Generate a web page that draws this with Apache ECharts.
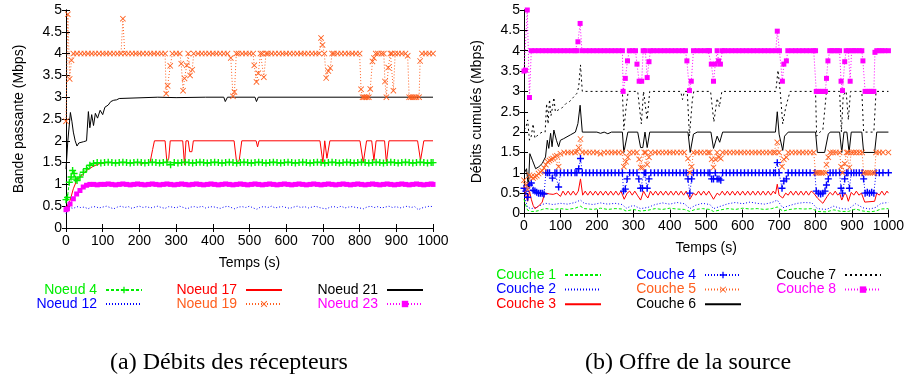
<!DOCTYPE html>
<html>
<head>
<meta charset="utf-8">
<script src="https://cdn.jsdelivr.net/npm/echarts@6/dist/echarts.min.js"></script>
<style>
  html, body { margin: 0; padding: 0; background: #fff; }
  #chart { width: 907px; height: 378px; }
</style>
</head>
<body>
<div id="chart"></div>
<script>
// ---- data: left panel (receivers), [time s, Mbps]
const noeud4 = [[0,0.65],[4,0.7],[9,1.05],[14,1.17],[18,1.32],[22,1.25],[26,1.12],[30,1.09],[38,1.17],[47,1.28],[56,1.36],[65,1.44],[75,1.48],[85,1.5],[95,1.49],[105,1.5],[115,1.51],[125,1.5],[135,1.49],[145,1.5],[155,1.51],[165,1.5],[175,1.49],[185,1.5],[195,1.51],[205,1.5],[215,1.49],[225,1.5],[235,1.51],[245,1.5],[255,1.49],[265,1.5],[275,1.51],[285,1.45],[295,1.5],[305,1.49],[315,1.5],[325,1.51],[335,1.5],[345,1.49],[355,1.5],[365,1.51],[375,1.5],[385,1.49],[395,1.5],[405,1.51],[415,1.5],[425,1.49],[435,1.5],[445,1.51],[455,1.5],[465,1.49],[475,1.5],[485,1.51],[495,1.5],[505,1.49],[515,1.5],[525,1.51],[535,1.5],[545,1.49],[555,1.5],[565,1.51],[575,1.5],[585,1.49],[595,1.5],[605,1.51],[615,1.5],[625,1.49],[635,1.5],[645,1.51],[655,1.5],[665,1.49],[675,1.5],[685,1.51],[695,1.5],[705,1.49],[715,1.5],[725,1.51],[735,1.5],[745,1.49],[755,1.5],[765,1.51],[775,1.5],[785,1.49],[795,1.5],[805,1.51],[815,1.5],[825,1.49],[835,1.5],[845,1.51],[855,1.5],[865,1.49],[875,1.5],[885,1.51],[895,1.5],[905,1.49],[915,1.5],[925,1.51],[935,1.5],[945,1.49],[955,1.5],[965,1.51],[975,1.5],[985,1.49],[995,1.5],[1000,1.5]];
const noeud12 = [[0,0.33],[5,0.42],[10,0.47],[20,0.45],[30,0.49],[40,0.47],[50,0.48],[60,0.44],[70,0.48],[80,0.49],[90,0.46],[100,0.48],[110,0.5],[120,0.47],[130,0.44],[140,0.48],[150,0.5],[160,0.47],[170,0.49],[180,0.45],[190,0.48],[200,0.5],[210,0.47],[220,0.49],[230,0.46],[240,0.48],[250,0.5],[260,0.47],[270,0.45],[280,0.49],[290,0.48],[300,0.46],[310,0.5],[320,0.47],[330,0.44],[340,0.48],[350,0.49],[360,0.47],[370,0.5],[380,0.46],[390,0.48],[400,0.49],[410,0.47],[420,0.45],[430,0.48],[440,0.5],[450,0.47],[460,0.44],[470,0.48],[480,0.49],[490,0.47],[500,0.5],[510,0.46],[520,0.43],[530,0.48],[540,0.49],[550,0.47],[560,0.5],[570,0.46],[580,0.48],[590,0.49],[600,0.47],[610,0.45],[620,0.48],[630,0.5],[640,0.47],[650,0.49],[660,0.46],[670,0.48],[680,0.5],[690,0.47],[700,0.45],[710,0.44],[720,0.48],[730,0.49],[740,0.47],[750,0.5],[760,0.46],[770,0.48],[780,0.49],[790,0.47],[800,0.46],[810,0.44],[820,0.48],[830,0.5],[840,0.47],[850,0.49],[860,0.46],[870,0.48],[880,0.5],[890,0.47],[900,0.49],[910,0.46],[920,0.48],[930,0.5],[940,0.47],[950,0.49],[960,0.42],[970,0.46],[980,0.48],[990,0.5],[1000,0.49]];
const noeud17 = [[0,0.45],[11,0.63],[20,0.9],[29,1.09],[43,1.2],[56,1.32],[75,1.42],[93,1.48],[111,1.5],[200,1.5],[205,1.45],[212,1.5],[229,1.5],[236,1.8],[241,2],[270,2],[275,1.5],[280,1.6],[284,2],[318,2],[323,1.45],[327,2],[333,2],[337,1.75],[343,1.75],[347,2],[458,2],[465,1.5],[472,1.55],[479,2],[518,2],[522,1.86],[526,2],[692,2],[700,1.5],[705,2],[711,1.6],[719,2],[801,2],[810,1.5],[819,2],[833,2],[839,1.55],[845,2],[868,2],[873,1.5],[880,2],[958,2],[966,1.55],[975,2],[1000,2]];
const noeud19 = [[0,2.45],[5,4.9],[10,3.42],[15,3.85],[20,4],[30,4],[40,4],[50,4],[60,4],[70,4],[80,4],[90,4],[100,4],[110,4],[120,4],[130,4],[140,4],[150,4],[155,4.8],[160,4],[170,4],[180,4],[190,4],[200,4],[210,4],[220,4],[230,4],[240,4],[250,4],[260,4],[270,4],[273,3.08],[277,3.26],[284,3.72],[290,4],[300,4],[310,4],[314,3.77],[319,3.15],[323,3.43],[329,3.73],[333,4],[338,3.5],[344,3.63],[348,4],[360,4],[370,4],[380,4],[390,4],[400,4],[410,4],[420,4],[430,4],[440,4],[449,3.9],[455,3.02],[459,3.12],[464,4],[470,4],[480,4],[490,4],[500,4],[510,4],[513,3.73],[519,3.35],[524,3.55],[530,4],[535,4],[539,3.46],[545,4],[550,4],[560,4],[570,4],[580,4],[590,4],[600,4],[610,4],[620,4],[630,4],[640,4],[650,4],[660,4],[670,4],[680,4],[690,4],[695,4.36],[699,4.2],[704,4],[709,3.44],[715,3.6],[720,3.67],[725,4],[730,4],[740,4],[750,4],[760,4],[770,4],[780,4],[790,4],[800,4],[804,3.18],[808,3],[812,3],[816,3],[820,3],[825,3],[829,3.19],[835,3.82],[839,3.9],[844,4],[850,4],[860,4],[866,4],[869,3.36],[873,3],[878,3.68],[884,4],[888,4],[892,3.15],[897,4],[905,4],[915,4],[925,4],[931,3.95],[935,3],[940,3],[945,3],[950,3],[955,3],[962,3],[965,3.83],[970,4],[980,4],[990,4],[1000,4]];
const noeud21 = [[0,1.35],[5,2.0],[12,2.65],[16,2.45],[20,2.2],[25,2.0],[30,1.88],[35,1.95],[40,1.92],[48,1.98],[56,2.0],[61,2.67],[65,2.3],[70,2.6],[75,2.35],[80,2.63],[86,2.52],[93,2.7],[100,2.6],[106,2.77],[115,2.82],[122,2.9],[130,2.93],[138,2.94],[145,2.97],[150,3.0],[250,3.0],[300,2.99],[380,3.0],[430,3.0],[434,2.9],[440,3.0],[515,3.0],[519,2.9],[524,3.0],[1000,3.0]];
const noeud23 = [[0,0.42],[4,0.44],[11,0.55],[20,0.67],[29,0.78],[38,0.86],[47,0.94],[56,0.98],[65,1],[75,1],[85,0.99],[95,1],[105,1],[115,1.01],[125,1],[135,0.99],[145,1],[155,1.01],[165,1],[175,0.99],[185,1],[195,1.01],[205,1],[215,0.99],[225,1],[235,1.01],[245,1],[255,0.99],[265,1],[275,1.01],[285,1],[295,0.99],[305,1],[315,1.01],[325,1],[335,0.99],[345,1],[355,1.01],[365,1],[375,0.99],[385,1],[395,1.01],[405,1],[415,0.99],[425,1],[435,1.01],[445,1],[455,0.99],[465,1],[475,1.01],[485,1],[495,0.99],[505,1],[515,1.01],[525,1],[535,0.99],[545,1],[555,1.01],[565,1],[575,0.99],[585,1],[595,1.01],[605,1],[615,0.99],[625,1],[635,1.01],[645,1],[655,0.99],[665,1],[675,1.01],[685,1],[695,0.99],[705,1],[715,1.01],[725,1],[735,0.99],[745,1],[755,1.01],[765,1],[775,0.99],[785,1],[795,1.01],[805,1],[815,0.99],[825,1],[835,1.01],[845,1],[855,0.99],[865,1],[875,1.01],[885,1],[895,0.99],[905,1],[915,1.01],[925,1],[935,0.99],[945,1],[955,1.01],[965,1],[975,0.99],[985,1],[995,1.01],[1000,1]];

// ---- data: right panel (source layers), [time s, Mbps]
const couche1 = [[0,0.35],[5,0.2],[10,0.08],[20,0.05],[30,0.05],[40,0.07],[50,0.1],[60,0.12],[80,0.1],[100,0.12],[120,0.1],[140,0.13],[155,0.18],[165,0.12],[190,0.1],[210,0.13],[230,0.1],[250,0.12],[270,0.11],[280,0.06],[300,0.1],[320,0.06],[340,0.08],[360,0.12],[380,0.1],[400,0.13],[420,0.11],[440,0.1],[455,0.05],[470,0.1],[490,0.12],[510,0.1],[520,0.05],[540,0.09],[560,0.12],[580,0.1],[600,0.13],[620,0.11],[640,0.12],[660,0.1],[680,0.12],[695,0.16],[710,0.06],[730,0.1],[750,0.12],[770,0.11],[790,0.12],[805,0.05],[830,0.04],[850,0.09],[870,0.05],[890,0.05],[910,0.11],[930,0.06],[950,0.04],[965,0.06],[980,0.11],[1000,0.12]];
const couche2 = [[0,0.55],[5,0.3],[10,0.15],[20,0.12],[30,0.14],[40,0.18],[50,0.22],[60,0.25],[80,0.22],[100,0.25],[120,0.23],[140,0.27],[155,0.33],[165,0.25],[190,0.22],[210,0.26],[230,0.23],[250,0.25],[270,0.22],[280,0.13],[300,0.2],[320,0.12],[340,0.15],[360,0.22],[380,0.26],[400,0.23],[420,0.27],[440,0.24],[455,0.12],[470,0.2],[490,0.25],[510,0.22],[520,0.12],[540,0.18],[560,0.24],[580,0.27],[600,0.24],[620,0.28],[640,0.25],[660,0.23],[680,0.27],[695,0.33],[710,0.14],[730,0.2],[750,0.25],[770,0.27],[790,0.26],[805,0.12],[830,0.1],[850,0.18],[870,0.12],[890,0.11],[910,0.24],[930,0.14],[950,0.11],[965,0.15],[980,0.25],[1000,0.27]];
const couche3 = [[0,0.62],[5,0.45],[10,0.3],[15,0.55],[20,0.35],[25,0.2],[30,0.12],[40,0.18],[50,0.28],[55,0.45],[60,0.5],[70,0.48],[80,0.47],[90,0.5],[100,0.42],[107,0.55],[114,0.45],[121,0.55],[128,0.45],[135,0.55],[142,0.45],[149,0.55],[155,0.85],[161,0.45],[168,0.55],[175,0.45],[182,0.55],[189,0.45],[196,0.55],[203,0.45],[210,0.55],[217,0.45],[224,0.55],[231,0.45],[238,0.55],[245,0.45],[252,0.55],[259,0.45],[266,0.55],[275,0.35],[283,0.5],[290,0.55],[297,0.45],[304,0.55],[311,0.45],[320,0.33],[328,0.55],[334,0.45],[340,0.38],[347,0.55],[354,0.45],[361,0.55],[368,0.45],[375,0.55],[382,0.45],[389,0.55],[396,0.45],[403,0.55],[410,0.45],[417,0.55],[424,0.45],[431,0.55],[438,0.45],[445,0.55],[455,0.35],[465,0.5],[472,0.45],[479,0.55],[486,0.45],[493,0.55],[500,0.45],[507,0.55],[520,0.35],[530,0.5],[537,0.45],[544,0.55],[551,0.45],[558,0.55],[565,0.45],[572,0.55],[579,0.45],[586,0.55],[593,0.45],[600,0.55],[607,0.45],[614,0.55],[621,0.45],[628,0.55],[635,0.45],[642,0.55],[649,0.45],[656,0.55],[663,0.45],[670,0.55],[677,0.45],[684,0.55],[690,0.48],[695,0.72],[700,0.45],[710,0.38],[718,0.5],[725,0.45],[732,0.55],[739,0.45],[746,0.55],[753,0.45],[760,0.55],[767,0.45],[774,0.55],[781,0.45],[788,0.55],[795,0.5],[805,0.38],[820,0.25],[832,0.42],[840,0.52],[847,0.45],[854,0.55],[861,0.45],[866,0.5],[872,0.33],[880,0.5],[885,0.45],[890,0.3],[898,0.52],[905,0.45],[912,0.55],[919,0.45],[926,0.5],[935,0.28],[962,0.3],[968,0.5],[975,0.45],[982,0.55],[989,0.45],[996,0.55],[1000,0.5]];
const couche4 = [[0,0.62],[5,0.55],[10,0.4],[15,0.7],[20,0.75],[25,0.57],[30,0.55],[35,0.52],[40,0.5],[45,0.5],[50,0.5],[55,0.48],[60,1],[65,1],[70,1],[78,0.87],[85,1],[90,1],[95,0.65],[100,1],[110,1],[120,1],[130,1],[140,1],[145,1],[150,1.1],[155,1.35],[160,1],[170,1],[180,1],[190,1],[200,1],[210,1],[220,1],[230,1],[240,1],[250,1],[260,1],[270,1],[273,0.55],[278,0.6],[283,0.85],[290,1],[300,1],[310,1],[315,0.85],[320,0.62],[325,0.62],[330,1],[334,1],[338,0.62],[343,0.85],[348,1],[358,1],[368,1],[378,1],[388,1],[398,1],[408,1],[418,1],[428,1],[438,1],[445,1],[450,0.85],[455,0.5],[460,0.85],[465,1],[475,1],[485,1],[495,1],[505,1],[510,1],[515,0.85],[520,0.85],[525,1],[530,0.85],[535,0.85],[540,0.82],[545,1],[555,1],[565,1],[575,1],[585,1],[595,1],[605,1],[615,1],[625,1],[635,1],[645,1],[655,1],[665,1],[675,1],[685,1],[690,1],[695,1.25],[700,1],[708,0.62],[713,0.8],[720,0.85],[725,1],[735,1],[745,1],[755,1],[765,1],[775,1],[785,1],[798,1],[802,0.55],[808,0.5],[814,0.48],[820,0.5],[826,0.55],[830,0.7],[835,0.85],[840,1],[848,1],[856,1],[866,1],[870,0.62],[874,0.5],[880,0.85],[885,1],[889,1],[893,0.62],[898,1],[905,1],[912,1],[920,1],[928,1],[932,0.85],[936,0.5],[942,0.52],[948,0.5],[954,0.52],[960,0.5],[966,1],[975,1],[985,1],[1000,1]];
const couche5 = [[0,0.82],[5,0.7],[10,0.59],[15,0.94],[20,0.9],[25,0.87],[30,0.9],[35,0.93],[40,0.98],[45,1.02],[50,1.05],[55,1.12],[60,1.2],[65,1.27],[70,1.3],[75,1.33],[80,1.35],[85,1.4],[90,1.42],[95,1.15],[100,1.47],[110,1.5],[120,1.5],[130,1.5],[140,1.5],[146,1.52],[150,1.62],[155,1.83],[160,1.5],[170,1.5],[180,1.5],[190,1.5],[200,1.5],[210,1.47],[220,1.5],[230,1.5],[240,1.5],[250,1.5],[260,1.5],[270,1.5],[274,1.15],[280,1.27],[285,1.38],[290,1.5],[300,1.5],[310,1.5],[316,1.33],[320,1.13],[325,1.13],[330,1.5],[334,1.5],[338,1.2],[343,1.38],[348,1.5],[360,1.5],[370,1.5],[380,1.5],[390,1.5],[400,1.5],[410,1.5],[420,1.5],[430,1.5],[440,1.5],[450,1.35],[455,1.0],[460,1.15],[465,1.5],[475,1.5],[485,1.5],[495,1.5],[505,1.5],[510,1.5],[515,1.33],[520,1.13],[525,1.33],[530,1.5],[535,1.38],[540,1.35],[545,1.5],[555,1.5],[565,1.5],[575,1.5],[585,1.5],[595,1.5],[605,1.5],[615,1.5],[625,1.5],[635,1.5],[645,1.5],[655,1.5],[665,1.5],[675,1.5],[685,1.5],[690,1.5],[695,1.75],[700,1.5],[708,1.15],[713,1.33],[720,1.38],[725,1.5],[735,1.5],[745,1.5],[755,1.5],[765,1.5],[775,1.5],[785,1.5],[795,1.5],[800,1],[805,1],[810,1],[815,1],[820,1],[828,1],[830,1.2],[835,1.38],[840,1.5],[848,1.5],[856,1.5],[866,1.5],[870,1.15],[874,1],[880,1.22],[885,1.5],[889,1.5],[893,1.13],[898,1.5],[905,1.5],[912,1.5],[920,1.5],[928,1.5],[932,1],[938,1],[944,1],[950,1],[956,1],[962,1],[966,1.5],[975,1.5],[985,1.5],[1000,1.5]];
const couche6 = [[0,0.98],[7,1.1],[12,0.65],[16,1.47],[23,1.31],[32,1.1],[41,1.15],[50,1.23],[59,1.39],[64,1.8],[68,1.6],[73,1.97],[77,1.64],[82,2.05],[89,1.8],[95,1.64],[100,1.8],[109,1.84],[127,1.93],[141,2.0],[148,2.21],[154,2.66],[160,2.0],[200,2.0],[210,1.97],[220,2.0],[230,1.96],[240,2.0],[270,2.0],[274,1.5],[285,2.0],[312,2.0],[320,1.62],[326,1.62],[332,2.0],[335,2.0],[338,1.62],[345,2.0],[450,2.0],[456,1.5],[465,1.95],[475,2.0],[513,2.0],[520,1.6],[530,1.9],[537,1.75],[545,2.0],[690,2.0],[695,2.5],[700,1.95],[710,1.55],[715,1.9],[725,2.0],[800,2.0],[805,1.5],[825,1.5],[835,1.95],[840,2.0],[866,2.0],[872,1.5],[878,2.0],[886,2.0],[892,1.5],[898,2.0],[927,2.0],[932,1.5],[962,1.5],[968,2.0],[1000,2.0]];
const couche7 = [[0,2.05],[5,2.1],[10,2.3],[15,1.8],[20,1.9],[25,2.2],[30,1.85],[40,1.95],[50,2.0],[58,2.0],[62,2.7],[66,2.2],[70,2.8],[74,2.4],[78,2.6],[82,2.85],[86,2.5],[95,2.55],[105,2.6],[115,2.7],[125,2.75],[135,2.85],[145,2.95],[150,3.1],[155,3.65],[160,3.0],[270,3.0],[274,2.05],[280,2.6],[286,3.0],[312,3.0],[322,2.2],[328,3.0],[333,3.0],[338,2.3],[345,3.0],[430,3.0],[435,2.8],[440,3.0],[448,3.0],[454,1.9],[462,2.8],[466,3.0],[512,3.0],[521,2.25],[530,2.83],[536,2.62],[543,3.0],[691,3.0],[697,3.52],[703,3.0],[710,2.2],[718,2.6],[730,3.0],[800,3.0],[803,1.9],[812,2.0],[820,2.05],[830,3.0],[866,3.0],[871,2.0],[876,2.9],[884,3.0],[890,2.3],[896,3.0],[927,3.0],[932,2.0],[960,2.0],[966,3.0],[1000,3.0]];
const couche8 = [[0,3.5],[4,3.52],[9,5.0],[15,2.85],[20,4],[30,4],[40,4],[50,4],[60,4],[70,4],[80,4],[90,4],[100,4],[110,4],[120,4],[130,4],[140,4],[145,4],[148,4.22],[154,4.67],[159,4],[170,4],[180,4],[190,4],[200,4],[210,4],[220,4],[230,4],[240,4],[250,4],[260,4],[270,4],[272,3.0],[278,3.32],[284,3.75],[289,4],[298,4],[306,4],[310,3.67],[316,3.25],[323,3.25],[327,4],[333,4],[338,3.34],[343,3.73],[347,4],[355,4],[365,4],[375,4],[385,4],[395,4],[405,4],[415,4],[425,4],[435,4],[443,4],[447,3.75],[454,3.02],[459,3.25],[465,4],[475,4],[485,4],[495,4],[505,4],[509,4],[514,3.67],[520,3.25],[525,3.67],[530,4],[534,3.75],[539,3.67],[544,4],[550,4],[560,4],[570,4],[580,4],[590,4],[600,4],[610,4],[620,4],[630,4],[640,4],[650,4],[660,4],[670,4],[680,4],[691,4],[695,4.48],[701,4],[709,3.25],[713,3.67],[720,3.75],[724,4],[735,4],[745,4],[755,4],[765,4],[775,4],[785,4],[795,4],[800,4],[802,3],[808,3],[814,3],[820,3],[827,3],[830,3.32],[834,3.75],[839,4],[845,4],[852,4],[860,4],[866,4],[870,3.25],[874,3.02],[880,3.73],[884,4],[890,4],[895,3.25],[899,4],[905,4],[912,4],[920,4],[927,4],[930,3.75],[936,3],[942,3],[948,3],[954,3],[960,3],[963,3.96],[968,4],[975,4],[982,4],[990,4],[1000,4]];

const xTitle = "Temps (s)";
const yTitleLeft = "Bande passante (Mbps)";
const yTitleRight = "Débits cumulés (Mbps)";
const captionLeft = "(a) Débits des récepteurs";
const captionRight = "(b) Offre de la source";

const GREEN = "#00ee00", BLUE = "#0000ff", RED = "#ff0000", ORANGE = "#ff6020", BLACK = "#000000", MAGENTA = "#ff00ff";
const SANS = "Liberation Sans";

const PLUS = "path://M4,0H6V4H10V6H6V10H4V6H0V4H4Z";
const CROSS = "path://M0,1L1,0L5,4L9,0L10,1L6,5L10,9L9,10L5,6L1,10L0,9L4,5Z";

const chart = echarts.init(document.getElementById("chart"));

// one frame = bottom/left axes with labels + top/right mirror axes with ticks only
function xAxes(grid, nameGap) {
  const base = {
    gridIndex: grid, type: "value", min: 0, max: 1000, interval: 100,
    axisLine: { lineStyle: { color: "#000", width: 1 } },
    axisTick: { inside: true, length: 4, lineStyle: { color: "#000" } },
    splitLine: { show: false },
  };
  return [
    Object.assign({}, base, {
      position: "bottom",
      axisLabel: { color: "#000", fontSize: 14, fontFamily: SANS, margin: 6, formatter: (v) => String(v) },
      name: xTitle, nameLocation: "middle", nameGap: nameGap,
      nameTextStyle: { color: "#000", fontSize: 14, fontFamily: SANS },
    }),
    Object.assign({}, base, { position: "top", axisLabel: { show: false } }),
  ];
}
function yAxes(grid, name, nameGap) {
  const base = {
    gridIndex: grid, type: "value", min: 0, max: 5, interval: 0.5,
    axisLine: { lineStyle: { color: "#000", width: 1 } },
    axisTick: { inside: true, length: 4, lineStyle: { color: "#000" } },
    splitLine: { show: false },
  };
  return [
    Object.assign({}, base, {
      position: "left",
      axisLabel: { color: "#000", fontSize: 14, fontFamily: SANS, margin: 4 },
      name: name, nameLocation: "middle", nameGap: nameGap,
      nameTextStyle: { color: "#000", fontSize: 14, fontFamily: SANS },
    }),
    Object.assign({}, base, { position: "right", axisLabel: { show: false } }),
  ];
}

function line(name, data, color, dash, xi, symbol, size) {
  return {
    name: name, type: "line", data: data,
    xAxisIndex: xi, yAxisIndex: xi,
    symbol: symbol || "none", symbolSize: size || 6, showAllSymbol: true,
    lineStyle: { color: color, width: 1, type: dash },
    itemStyle: { color: color },
    emphasis: { disabled: true },
  };
}

// items: [name, colour, has marker]
function legend(items, right, top, gap) {
  return {
    orient: "vertical", align: "right", right: right, top: top,
    padding: 0, itemGap: gap, itemWidth: 36, itemHeight: 8,
    selectedMode: false,
    formatter: (n) => n + " ",
    textStyle: { fontSize: 14, fontFamily: SANS, lineHeight: 14 },
    data: items.map((it) => ({
      name: it[0],
      textStyle: { color: it[1] },
      itemStyle: it[2] ? undefined : { opacity: 0 },
    })),
  };
}

chart.setOption({
  animation: false,
  grid: [
    { left: 66, top: 10, width: 367, height: 218 },
    { left: 524, top: 10, width: 368, height: 203.5 },
  ],
  xAxis: [...xAxes(0, 28), ...xAxes(1, 28)],
  yAxis: [...yAxes(0, yTitleLeft, 40), ...yAxes(1, yTitleRight, 40)],
  legend: [
    legend([["Noeud 4", GREEN, true], ["Noeud 12", BLUE, false]], 764, 283, 0),
    legend([["Noeud 17", RED, false], ["Noeud 19", ORANGE, true]], 624, 283, 0),
    legend([["Noeud 21", BLACK, false], ["Noeud 23", MAGENTA, true]], 483, 283, 0),
    legend([["Couche 1", GREEN, false], ["Couche 2", BLUE, false], ["Couche 3", RED, false]], 305, 268, 0.6),
    legend([["Couche 4", BLUE, true], ["Couche 5", ORANGE, true], ["Couche 6", BLACK, false]], 165, 268, 0.6),
    legend([["Couche 7", BLACK, false], ["Couche 8", MAGENTA, true]], 25, 268, 0.6),
  ],
  graphic: [
    { type: "text", x: 229, y: 363, style: { text: captionLeft, align: "center", verticalAlign: "middle", font: '24px "Liberation Serif"', fill: "#000" } },
    { type: "text", x: 688, y: 363, style: { text: captionRight, align: "center", verticalAlign: "middle", font: '24px "Liberation Serif"', fill: "#000" } },
  ],
  series: [
    line("Noeud 4", noeud4, GREEN, [3, 2], 0, PLUS, 7),
    line("Noeud 12", noeud12, BLUE, [1, 2], 0),
    line("Noeud 17", noeud17, RED, "solid", 0),
    line("Noeud 19", noeud19, ORANGE, [1, 2], 0, CROSS, 6),
    line("Noeud 21", noeud21, BLACK, "solid", 0),
    line("Noeud 23", noeud23, MAGENTA, [1, 2], 0, "rect", 5),
    line("Couche 1", couche1, GREEN, [3, 2], 2),
    line("Couche 2", couche2, BLUE, [1, 2], 2),
    line("Couche 3", couche3, RED, "solid", 2),
    line("Couche 4", couche4, BLUE, [1, 2], 2, PLUS, 7),
    line("Couche 5", couche5, ORANGE, [1, 2], 2, CROSS, 6),
    line("Couche 6", couche6, BLACK, "solid", 2),
    line("Couche 7", couche7, BLACK, [2, 3], 2),
    line("Couche 8", couche8, MAGENTA, [1, 2], 2, "rect", 5),
  ],
});
</script>
</body>
</html>
